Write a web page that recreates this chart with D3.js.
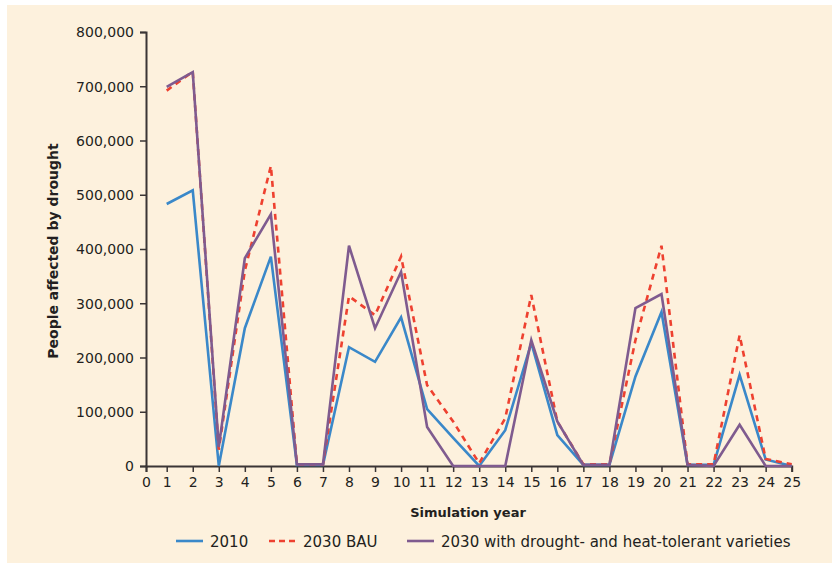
<!DOCTYPE html>
<html><head><meta charset="utf-8">
<script src="https://cdn.jsdelivr.net/npm/d3@7"></script>
<style>body{margin:0;background:#fff}text{font-family:"DejaVu Sans",sans-serif;fill:#231f20}</style>
</head><body><svg id="c" width="832" height="564"></svg>
<script>
const years = d3.range(1, 26);
const xTicks = d3.range(0, 26);
const yTicks = [0,100000,200000,300000,400000,500000,600000,700000,800000];
const s2010 = [483000,508000,0,254000,386000,2000,2000,219000,192000,274000,105000,52000,0,66000,227000,57000,2000,2000,165000,284000,2000,2000,168000,12000,0];
const sBAU  = [692000,727000,30000,360000,553000,3000,3000,313000,278000,386000,149000,82000,5000,88000,315000,82000,3000,3000,232000,406000,3000,3000,241000,13000,3000];
const sDHT  = [699000,726000,35000,383000,464000,3000,3000,406000,254000,358000,72000,0,0,0,232000,82000,2000,2000,291000,317000,2000,0,76000,0,0];
const seriesNames = ["2010","2030 BAU","2030 with drought- and heat-tolerant varieties"];
const seriesData = [s2010, sBAU, sDHT];
const colors = ["#3a88c9","#ee4130","#7f5b8f"];
const dashes = [null,"6,5",null];

const svg = d3.select("#c");
svg.append("rect").attr("x",7).attr("y",5).attr("width",825).attr("height",558).attr("fill","#fdf1dd");

const x = d3.scaleLinear().domain([0,1,25]).range([146,166.7,791.7]);
const y = d3.scaleLinear().domain([0,800000]).range([466,32]);

const gy = svg.append("g").attr("transform","translate(146,0)")
  .call(d3.axisLeft(y).tickValues(yTicks).tickSize(6).tickPadding(6).tickFormat(d3.format(",")));
const gx = svg.append("g").attr("transform","translate(0,466)")
  .call(d3.axisBottom(x).tickValues(xTicks).tickSize(6).tickPadding(5).tickFormat(d3.format("d")));
[gx,gy].forEach(g=>{
  g.select(".domain").attr("stroke","#3a3535").attr("stroke-width",2);
  g.selectAll(".tick line").attr("stroke","#3a3535").attr("stroke-width",1.5);
  g.selectAll(".tick text").attr("font-size",14).attr("fill","#231f20").style("font-family","'DejaVu Sans',sans-serif");
});
gy.selectAll(".tick text").attr("dy","0.35em");

const line = d3.line().x((d,i)=>x(years[i])).y(d=>y(d));
seriesData.forEach((s,k)=>{
  svg.append("path").datum(s).attr("d",line).attr("fill","none")
    .attr("stroke",colors[k]).attr("stroke-width",2.6)
    .attr("stroke-dasharray",dashes[k]).attr("stroke-linejoin","miter");
});

svg.append("text").attr("x",468).attr("y",517).attr("text-anchor","middle")
  .attr("font-size",13).attr("font-weight","bold").text("Simulation year");
svg.append("text").attr("transform","translate(58,251) rotate(-90)").attr("text-anchor","middle")
  .attr("font-size",14).attr("font-weight","bold").text("People affected by drought");

const legX = [176,269,407];
seriesNames.forEach((n,k)=>{
  svg.append("line").attr("x1",legX[k]).attr("x2",legX[k]+27).attr("y1",541).attr("y2",541)
    .attr("stroke",colors[k]).attr("stroke-width",2.6).attr("stroke-dasharray",dashes[k]?"6,4":null);
  svg.append("text").attr("x",legX[k]+34).attr("y",546.5).attr("font-size",15).text(n);
});
</script></body></html>
